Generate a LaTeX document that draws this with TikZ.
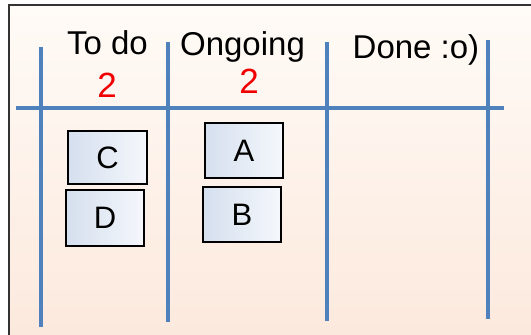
\documentclass[tikz,border=0pt]{standalone}
\usepackage{fontspec}
\setmainfont{Liberation Sans}
\definecolor{lineblue}{HTML}{4F81BD}
\definecolor{peachA}{HTML}{FFFBF7}
\definecolor{peachB}{HTML}{FCE9DD}
\definecolor{cardA}{HTML}{D5DFEE}
\definecolor{cardB}{HTML}{F5F8FC}
\definecolor{numred}{HTML}{F00000}
\begin{document}
\begin{tikzpicture}[x=1pt,y=-1pt,
  board/.style={line width=4pt, draw=lineblue},
  card/.style={draw=black, line width=2pt, left color=cardA, right color=cardB, anchor=north west, inner sep=0pt, font=\fontsize{31}{32}\selectfont},
  head/.style={font=\fontsize{33}{35}\selectfont, anchor=base},
  num/.style={font=\fontsize{35}{36}\selectfont, text=numred, anchor=base}]
\useasboundingbox (0,0) rectangle (531,335);
\fill[white] (0,0) rectangle (531,335);
\shade[top color=peachA, bottom color=peachB] (9,5) rectangle (531,335);
\draw[line width=2pt, draw=black!80] (9,336) -- (9,5) -- (532,5);
% board lines
\coordinate (h1) at (16,108);
\coordinate (h2) at (504,108);
\coordinate (v1a) at (41,47);  \coordinate (v1b) at (41,327);
\coordinate (v2a) at (168,42); \coordinate (v2b) at (168,322);
\coordinate (v3a) at (327,42); \coordinate (v3b) at (327,321);
\coordinate (v4a) at (488,40); \coordinate (v4b) at (488,319);
\draw[board] (h1) -- (h2);
\draw[board] (v1a) -- (v1b);
\draw[board] (v2a) -- (v2b);
\draw[board] (v3a) -- (v3b);
\draw[board] (v4a) -- (v4b);
% headers
\node[head] (todo) at (107.5,54) {To do};
\node[head] (ongoing) at (242.5,55) {Ongoing};
\node[head] (done) at (416,58) {Done :o)};
\node[num] (n1) at (107,97) {2};
\node[num] (n2) at (249,93) {2};
% cards
\node[card, minimum width=79pt, minimum height=53pt] (C) at (67,130) {C};
\node[card, minimum width=78pt, minimum height=56pt] (D) at (65,189) {D};
\node[card, minimum width=78pt, minimum height=55pt] (A) at (204,122) {A};
\node[card, minimum width=78pt, minimum height=55pt] (B) at (202,186) {B};
\end{tikzpicture}
\end{document}
